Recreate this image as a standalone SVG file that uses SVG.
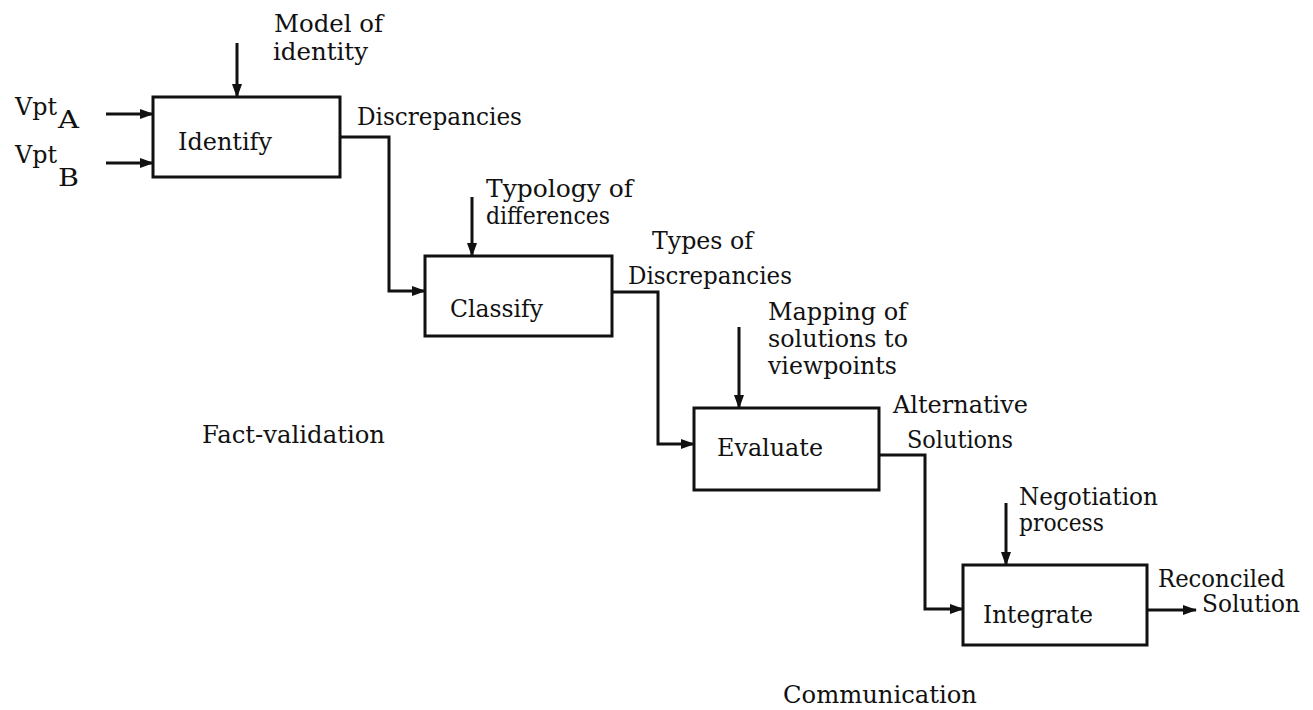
<svg xmlns="http://www.w3.org/2000/svg" width="1313" height="710" viewBox="0 0 1313 710">
<style>
text{font-family:"DejaVu Serif","Liberation Serif",serif;font-size:24px;fill:#111}
.box{fill:#fff;stroke:#111;stroke-width:3}
.ln{fill:none;stroke:#111;stroke-width:3;marker-end:url(#ah)}
</style>
<defs>
<marker id="ah" markerUnits="userSpaceOnUse" markerWidth="14" markerHeight="10" refX="13" refY="5" orient="auto">
<path d="M0,0 L14,5 L0,10 z" fill="#111"/>
</marker>
</defs>
<rect width="1313" height="710" fill="#fff"/>
<g id="connectors">
<line class="ln" x1="106" y1="114" x2="153" y2="114"/>
<line class="ln" x1="106" y1="163" x2="153" y2="163"/>
<line class="ln" x1="237" y1="43" x2="237" y2="97"/>
<polyline class="ln" points="340,137 389,137 389,291 425,291"/>
<line class="ln" x1="472" y1="197" x2="472" y2="256"/>
<polyline class="ln" points="612,292 658,292 658,444 694,444"/>
<line class="ln" x1="739" y1="327" x2="739" y2="408"/>
<polyline class="ln" points="879,455 925,455 925,609 963,609"/>
<line class="ln" x1="1006" y1="503" x2="1006" y2="565"/>
<line class="ln" x1="1147" y1="610" x2="1196" y2="610"/>
</g>
<g id="identify">
<rect class="box" x="153" y="97" width="187" height="80"/>
<text x="178" y="150" textLength="94" lengthAdjust="spacingAndGlyphs">Identify</text>
</g>
<g id="classify">
<rect class="box" x="425" y="256" width="187" height="80"/>
<text x="450" y="317" textLength="93" lengthAdjust="spacingAndGlyphs">Classify</text>
</g>
<g id="evaluate">
<rect class="box" x="694" y="408" width="185" height="82"/>
<text x="717" y="456" textLength="106" lengthAdjust="spacingAndGlyphs">Evaluate</text>
</g>
<g id="integrate">
<rect class="box" x="963" y="565" width="184" height="80"/>
<text x="983" y="623" textLength="110" lengthAdjust="spacingAndGlyphs">Integrate</text>
</g>
<g id="labels">
<text x="15" y="115" textLength="42" lengthAdjust="spacingAndGlyphs">Vpt</text>
<text x="58" y="128" textLength="21" lengthAdjust="spacingAndGlyphs">A</text>
<text x="15" y="163" textLength="42" lengthAdjust="spacingAndGlyphs">Vpt</text>
<text x="58" y="186" textLength="21" lengthAdjust="spacingAndGlyphs">B</text>
<text x="274" y="32" textLength="109" lengthAdjust="spacingAndGlyphs">Model of</text>
<text x="273" y="60" textLength="95" lengthAdjust="spacingAndGlyphs">identity</text>
<text x="357" y="125" textLength="165" lengthAdjust="spacingAndGlyphs">Discrepancies</text>
<text x="486" y="197" textLength="147" lengthAdjust="spacingAndGlyphs">Typology of</text>
<text x="486" y="224" textLength="124" lengthAdjust="spacingAndGlyphs">differences</text>
<text x="652" y="249" textLength="101" lengthAdjust="spacingAndGlyphs">Types of</text>
<text x="628" y="284" textLength="164" lengthAdjust="spacingAndGlyphs">Discrepancies</text>
<text x="768" y="320" textLength="139" lengthAdjust="spacingAndGlyphs">Mapping of</text>
<text x="768" y="347" textLength="140" lengthAdjust="spacingAndGlyphs">solutions to</text>
<text x="768" y="374" textLength="129" lengthAdjust="spacingAndGlyphs">viewpoints</text>
<text x="893" y="413" textLength="135" lengthAdjust="spacingAndGlyphs">Alternative</text>
<text x="907" y="448" textLength="106" lengthAdjust="spacingAndGlyphs">Solutions</text>
<text x="1019" y="505" textLength="139" lengthAdjust="spacingAndGlyphs">Negotiation</text>
<text x="1019" y="531" textLength="85" lengthAdjust="spacingAndGlyphs">process</text>
<text x="1158" y="587" textLength="127" lengthAdjust="spacingAndGlyphs">Reconciled</text>
<text x="1202" y="612" textLength="98" lengthAdjust="spacingAndGlyphs">Solution</text>
<text x="202" y="443" textLength="183" lengthAdjust="spacingAndGlyphs">Fact-validation</text>
<text x="783" y="703" textLength="194" lengthAdjust="spacingAndGlyphs">Communication</text>
</g>
</svg>
